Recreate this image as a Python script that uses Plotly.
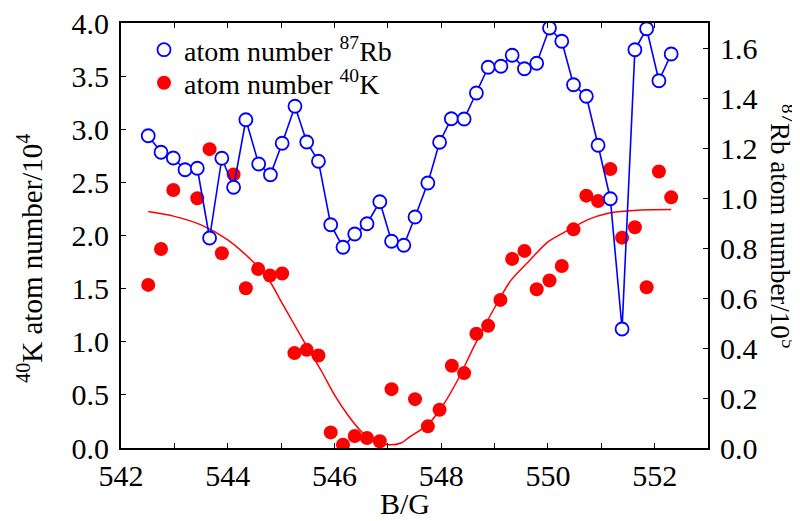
import plotly.graph_objects as go

# 87Rb atom number (units of 1e5), right axis
rb_B = [542.51, 542.75, 542.98, 543.20, 543.43, 543.66, 543.89, 544.11, 544.34, 544.58,
        544.80, 545.02, 545.26, 545.48, 545.70, 545.93, 546.16, 546.38, 546.61, 546.85,
        547.07, 547.30, 547.51, 547.75, 547.97, 548.19, 548.43, 548.66, 548.88, 549.12,
        549.33, 549.56, 549.79, 550.03, 550.26, 550.48, 550.72, 550.94, 551.17, 551.39,
        551.63, 551.85, 552.08, 552.31]
rb_N = [1.249, 1.183, 1.160, 1.113, 1.119, 0.840, 1.159, 1.043, 1.313, 1.136,
        1.093, 1.219, 1.367, 1.224, 1.147, 0.893, 0.803, 0.856, 0.897, 0.985,
        0.827, 0.811, 0.924, 1.060, 1.223, 1.317, 1.316, 1.420, 1.523, 1.527,
        1.571, 1.517, 1.539, 1.680, 1.627, 1.453, 1.407, 1.211, 0.997, 0.476,
        1.593, 1.677, 1.469, 1.576]

# 40K atom number (units of 1e4), left axis
k_B = [542.51, 542.75, 542.98, 543.20, 543.43, 543.66, 543.89, 544.11, 544.34, 544.57,
       544.79, 545.02, 545.25, 545.48, 545.70, 545.93, 546.16, 546.38, 546.61, 546.85,
       547.07, 547.51, 547.75, 547.97, 548.20, 548.43, 548.66, 548.88, 549.11, 549.33,
       549.56, 549.79, 550.03, 550.26, 550.48, 550.72, 550.94, 551.17, 551.39, 551.63,
       551.85, 552.08, 552.31]
k_N = [1.535, 1.873, 2.428, 2.620, 2.350, 2.813, 1.833, 2.575, 1.504, 1.685,
       1.623, 1.642, 0.893, 0.924, 0.871, 0.147, 0.031, 0.113, 0.094, 0.063,
       0.554, 0.460, 0.204, 0.360, 0.774, 0.705, 1.075, 1.150, 1.394, 1.780,
       1.855, 1.494, 1.576, 1.713, 2.058, 2.375, 2.324, 2.625, 1.980, 2.077,
       1.513, 2.603, 2.359]

# fit curve for 40K
fit_B = [542.51, 543.00, 543.50, 544.00, 544.44, 544.75, 545.00, 545.25, 545.50, 545.76,
         546.00, 546.25, 546.50, 546.75, 547.00, 547.25, 547.38, 547.75, 548.00, 548.31,
         548.63, 549.00, 549.31, 549.63, 550.00, 550.38, 550.75, 551.13, 551.75, 552.31]
fit_N = [2.225, 2.180, 2.100, 1.960, 1.770, 1.600, 1.380, 1.160, 0.940, 0.720,
         0.500, 0.310, 0.157, 0.063, 0.031, 0.047, 0.094, 0.220, 0.376, 0.640,
         0.970, 1.320, 1.580, 1.750, 1.940, 2.050, 2.150, 2.210, 2.240, 2.245]

k_ticks = [0, 0.5, 1, 1.5, 2, 2.5, 3, 3.5, 4]
k_ticktext = ["0.0", "0.5", "1.0", "1.5", "2.0", "2.5", "3.0", "3.5", "4.0"]

FONT = "Liberation Serif"
BLUE = "#0000ff"
RED = "#ff0000"

fig = go.Figure()

fig.add_trace(go.Scatter(x=fit_B, y=fit_N, mode="lines",
                         line=dict(color=RED, width=1.5, shape="spline", smoothing=0.8),
                         showlegend=False, yaxis="y"))
fig.add_trace(go.Scatter(x=k_B, y=k_N, mode="markers", name="atom number <sup>40</sup>K",
                         marker=dict(color=RED, size=14, line=dict(width=0)), yaxis="y",
                         legend="legend2"))
fig.add_trace(go.Scatter(x=rb_B, y=rb_N, mode="lines", line=dict(color=BLUE, width=1.6),
                         showlegend=False, yaxis="y2"))
fig.add_trace(go.Scatter(x=rb_B, y=rb_N, mode="markers", name="atom number <sup>87</sup>Rb",
                         marker=dict(color="white", size=13, line=dict(color=BLUE, width=1.8)),
                         yaxis="y2", legend="legend"))

tickfont = dict(family=FONT, size=30, color="black")
axis_common = dict(showline=True, linecolor="black", linewidth=2, ticks="inside", ticklen=5,
                   tickwidth=1.2, tickcolor="black", showgrid=False, zeroline=False,
                   ticklabeloverflow="allow", automargin=False, tickfont=tickfont)

def px_x(p):
    return (p - 113) / 587.0

def px_y(p):
    return (440 - p) / 425.0

fig.update_layout(
    width=800, height=521,
    margin=dict(l=113, r=100, t=15, b=81, autoexpand=False),
    paper_bgcolor="white", plot_bgcolor="white",
    font=dict(family=FONT, color="black"),
    xaxis=dict(range=[542, 553], tick0=542, dtick=2, mirror="ticks",
               minor=dict(dtick=1, ticks="inside", ticklen=5, tickwidth=1.2, tickcolor="black"),
               **axis_common),
    yaxis=dict(range=[0, 4.0001], tickvals=k_ticks, ticktext=k_ticktext, ticklabelstandoff=4,
               **axis_common),
    yaxis2=dict(range=[0, 1.7], dtick=0.2, tickformat=".1f", overlaying="y", side="right",
                ticklabelstandoff=4, **axis_common),
    legend=dict(x=px_x(136), y=px_y(42), xanchor="left", yanchor="middle", bgcolor="rgba(0,0,0,0)",
                font=dict(family=FONT, size=28), itemwidth=30),
    legend2=dict(x=px_x(136), y=px_y(75), xanchor="left", yanchor="middle", bgcolor="rgba(0,0,0,0)",
                 font=dict(family=FONT, size=28), itemwidth=30),
    annotations=[
        dict(text="<sup>87</sup>Rb atom number/10<sup>5</sup>", textangle=90,
             xref="paper", yref="paper", x=px_x(774), y=px_y(218), showarrow=False,
             xanchor="center", yanchor="middle",
             font=dict(family=FONT, size=27, color="black")),
        dict(text="<sup>40</sup>K atom number/10<sup>4</sup>", textangle=-90,
             xref="paper", yref="paper", x=px_x(22), y=px_y(250), showarrow=False,
             xanchor="center", yanchor="middle",
             font=dict(family=FONT, size=29, color="black")),
        dict(text="B/G", xref="paper", yref="paper", x=px_x(397), y=px_y(495), showarrow=False,
             xanchor="center", yanchor="middle",
             font=dict(family=FONT, size=30, color="black")),
    ],
)

fig.write_html("out.html")
